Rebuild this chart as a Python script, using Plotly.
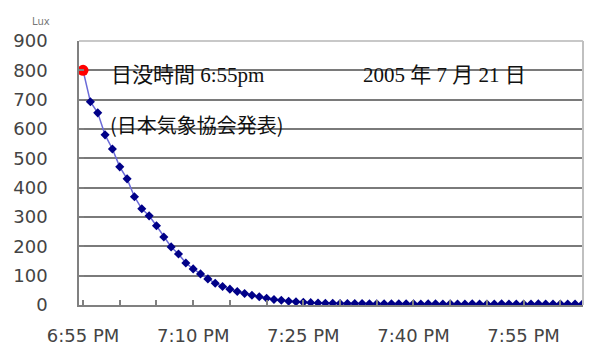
import plotly.graph_objects as go
import pandas as pd

# Data: illuminance (lux) sampled once per minute starting at sunset 6:55 PM, 21 July 2005
start_time = "2005-07-21 18:55"
lux = [800, 693, 655, 580, 532, 471, 430, 369, 328, 304,
       270, 232, 198, 174, 143, 123, 106, 89, 74, 63,
       54, 46, 39, 33, 28, 23, 19, 16, 13, 11,
       9, 8, 7, 6, 6, 5, 5, 5, 5, 4,
       4, 4, 4, 4, 4, 4, 3, 4, 4, 3,
       4, 3, 3, 4, 3, 3, 3, 4, 3, 3,
       3, 3, 4, 3, 3, 3, 3, 3, 3]
times = pd.date_range(start_time, periods=len(lux), freq="min")

y_ticks = [0, 100, 200, 300, 400, 500, 600, 700, 800, 900]

fig = go.Figure()
fig.add_trace(go.Scatter(
    x=times, y=lux, mode="lines+markers",
    line=dict(color="#6a6ad8", width=1.5),
    marker=dict(symbol="diamond", size=7, color="#000088"),
    showlegend=False, hoverinfo="x+y"))
fig.add_trace(go.Scatter(
    x=times[:1], y=lux[:1], mode="markers",
    marker=dict(symbol="circle", size=11, color="#ff0000"),
    showlegend=False))

W, H = 590, 345
L, R, T, B = 79, 7, 41, 40
pw, ph = W - L - R, H - T - B

def px(x):
    return (x - L) / pw

def py(y):
    return (H - B - y) / ph

fig.update_layout(
    width=W, height=H,
    margin=dict(l=L, r=R, t=T, b=B, autoexpand=False),
    paper_bgcolor="white", plot_bgcolor="white",
    font=dict(family="DejaVu Sans", size=18, color="#444444"),
    xaxis=dict(
        type="date", automargin=False,
        range=["2005-07-21 18:54:27", "2005-07-21 20:03:05"],
        tick0="2005-07-21 18:55", dtick=15 * 60 * 1000,
        tickformat="%-I:%M %p",
        ticks="inside", ticklen=5, tickcolor="#808080", tickwidth=1.5,
        minor=dict(tick0="2005-07-21 18:55", dtick=5 * 60 * 1000,
                   ticks="inside", ticklen=5, tickcolor="#808080", tickwidth=1.5),
        showgrid=False, zeroline=False,
        showline=True, linecolor="#808080", linewidth=1.5,
        ticklabelstandoff=14,
        tickfont=dict(family="DejaVu Sans", size=18, color="#444444"),
    ),
    yaxis=dict(
        range=[0, 900], tickvals=y_ticks, automargin=False,
        ticks="inside", ticklen=5, tickcolor="#808080", tickwidth=1.5,
        showgrid=True, gridcolor="#7a7a7a", gridwidth=1.5,
        zeroline=False,
        showline=True, linecolor="#808080", linewidth=1.5,
        ticklabelstandoff=26,
        tickfont=dict(family="DejaVu Sans", size=18, color="#444444"),
    ),
    shapes=[
        dict(type="line", xref="paper", yref="paper", x0=0, x1=1, y0=1, y1=1,
             line=dict(color="#c8c8c8", width=2), layer="above"),
        dict(type="line", xref="paper", yref="paper", x0=1, x1=1, y0=0, y1=1,
             line=dict(color="#c0c0c0", width=2), layer="above"),
    ],
    annotations=[
        dict(text="Lux", xref="paper", yref="paper", x=px(30), y=py(14),
             showarrow=False, font=dict(family="DejaVu Sans", size=10, color="#777777")),
        dict(text="日没時間 6:55pm", xref="paper", yref="paper", x=px(109), y=py(61),
             xanchor="left", showarrow=False,
             font=dict(family="Liberation Serif, Noto Sans CJK JP", size=21, color="#111111")),
        dict(text="2005 年 7 月 21 日", xref="paper", yref="paper", x=px(444), y=py(61),
             xanchor="center", showarrow=False,
             font=dict(family="Liberation Serif, Noto Sans CJK JP", size=21, color="#111111")),
        dict(text="(日本気象協会発表)", xref="paper", yref="paper", x=px(108), y=py(108),
             xanchor="left", showarrow=False,
             font=dict(family="Noto Sans CJK JP", size=20, color="#111111")),
    ],
)

fig.write_html("out.html", config={"displayModeBar": False},
               post_script="document.body.style.margin='0px';document.body.style.padding='0px';")
